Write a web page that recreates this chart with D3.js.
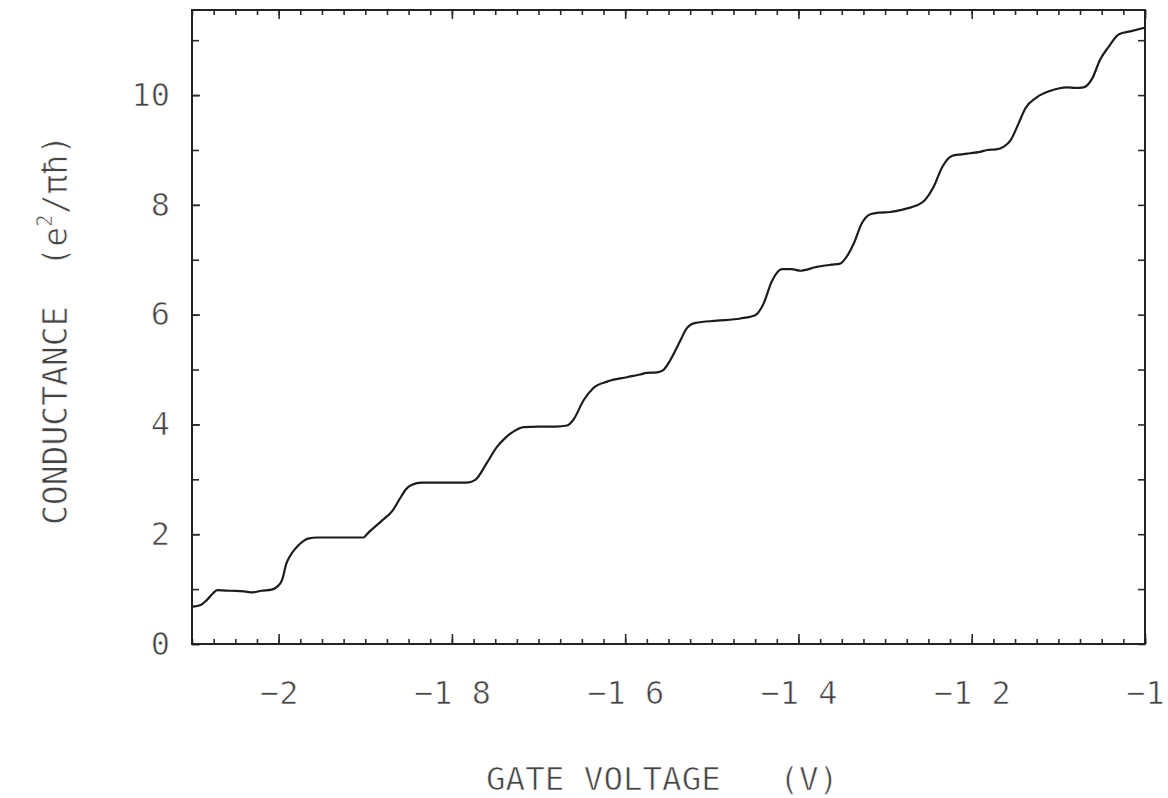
<!DOCTYPE html>
<html>
<head>
<meta charset="utf-8">
<script src="https://cdn.jsdelivr.net/npm/d3@7"></script>
<style>
  body { margin: 0; background: #fff; }
  svg { display: block; }
  .title { font-family: "DejaVu Sans Mono", monospace; fill: #444; white-space: pre; }
  .thin { stroke: #fff; stroke-width: 0.7px; }
</style>
</head>
<body>
<div id="chart"></div>
<script>
// gate voltage (V)
const gateVoltage = [
  -2.099, -2.090, -2.083, -2.076, -2.071, -2.055, -2.040, -2.030, -2.020, -2.008,
  -2.002, -1.996, -1.991, -1.987, -1.980, -1.975, -1.966, -1.955, -1.930, -1.902,
  -1.897, -1.882, -1.868, -1.860, -1.853, -1.846, -1.835, -1.810, -1.783, -1.773,
  -1.760, -1.748, -1.738, -1.729, -1.717, -1.700, -1.680, -1.667, -1.660, -1.648,
  -1.637, -1.621, -1.598, -1.583, -1.575, -1.563, -1.556, -1.548, -1.536, -1.529,
  -1.519, -1.494, -1.467, -1.450, -1.440, -1.431, -1.419, -1.408, -1.398, -1.379,
  -1.362, -1.352, -1.346, -1.336, -1.327, -1.317, -1.306, -1.294, -1.281, -1.271,
  -1.254, -1.244, -1.234, -1.223, -1.212, -1.202, -1.192, -1.182, -1.172, -1.163,
  -1.155, -1.146, -1.138, -1.125, -1.109, -1.100, -1.090, -1.080, -1.071, -1.061,
  -1.052, -1.042, -1.030, -1.017, -1.000
];
// conductance (e^2/pi h)
const conductance = [
  0.68, 0.71, 0.80, 0.92, 0.98, 0.97, 0.96, 0.94, 0.97, 0.99,
  1.04, 1.17, 1.47, 1.60, 1.75, 1.83, 1.92, 1.94, 1.94, 1.94,
  2.02, 2.23, 2.44, 2.65, 2.82, 2.90, 2.94, 2.94, 2.94, 2.99,
  3.29, 3.59, 3.76, 3.87, 3.95, 3.96, 3.96, 3.98, 4.08, 4.44,
  4.66, 4.78, 4.86, 4.91, 4.94, 4.95, 4.99, 5.17, 5.54, 5.75,
  5.85, 5.89, 5.93, 5.99, 6.21, 6.60, 6.83, 6.83, 6.80, 6.87,
  6.91, 6.93, 7.02, 7.30, 7.66, 7.83, 7.86, 7.87, 7.91, 7.95,
  8.09, 8.33, 8.69, 8.89, 8.92, 8.94, 8.96, 9.00, 9.01, 9.06,
  9.18, 9.48, 9.76, 9.96, 10.08, 10.12, 10.14, 10.13, 10.14, 10.30,
  10.64, 10.88, 11.11, 11.16, 11.23
];

const xTickValues = [-2, -1.8, -1.6, -1.4, -1.2, -1];
const xTickLabels = ["\u22122", "\u22121 8", "\u22121 6", "\u22121 4", "\u22121 2", "\u22121"];
const yTickValues = [0, 2, 4, 6, 8, 10];
const yTickLabels = ["0", "2", "4", "6", "8", "10"];

const width = 1168, height = 798;
const margin = { top: 10, right: 23, bottom: 154, left: 192 };
const x0 = margin.left, x1 = width - margin.right;
const y0 = height - margin.bottom, y1 = margin.top;

const x = d3.scaleLinear().domain([-2.1, -1.0]).range([x0, x1]);
const y = d3.scaleLinear().domain([0, 11.55]).range([y0, y1]);

const minorX = d3.range(0, 45).map(i => +(-2.1 + i * 0.025).toFixed(3));
const minorY = d3.range(0, 12);

const svg = d3.select("#chart").append("svg")
  .attr("width", width)
  .attr("height", height);

function styleAxis(g) {
  g.select(".domain").remove();
  g.attr("color", "#2a2a2a")
    .attr("font-family", "\"DejaVu Sans Mono\", monospace")
    .attr("font-size", 32);
  g.selectAll(".tick line").attr("stroke-width", 1.6);
  g.selectAll(".tick text").attr("fill", "#444").attr("class", "thin");
}

// bottom + top minor ticks
svg.append("g").attr("transform", `translate(0,${y0})`)
  .call(d3.axisBottom(x).tickValues(minorX).tickSize(-5).tickFormat(""))
  .call(styleAxis);
svg.append("g").attr("transform", `translate(0,${y1})`)
  .call(d3.axisTop(x).tickValues(minorX).tickSize(-5).tickFormat(""))
  .call(styleAxis);

// bottom major ticks with labels
svg.append("g").attr("transform", `translate(0,${y0})`)
  .call(d3.axisBottom(x).tickValues(xTickValues).tickSize(-10).tickPadding(37)
    .tickFormat((d, i) => xTickLabels[i]))
  .call(styleAxis)
  .selectAll(".tick text").style("white-space", "pre");
svg.append("g").attr("transform", `translate(0,${y1})`)
  .call(d3.axisTop(x).tickValues(xTickValues).tickSize(-9).tickFormat(""))
  .call(styleAxis);

// left + right ticks
svg.append("g").attr("transform", `translate(${x0},0)`)
  .call(d3.axisLeft(y).tickValues(minorY).tickSize(-7).tickFormat(""))
  .call(styleAxis);
svg.append("g").attr("transform", `translate(${x1},0)`)
  .call(d3.axisRight(y).tickValues(minorY).tickSize(-7).tickFormat(""))
  .call(styleAxis);
svg.append("g").attr("transform", `translate(${x0},0)`)
  .call(d3.axisLeft(y).tickValues(yTickValues).tickSize(-8).tickPadding(22)
    .tickFormat((d, i) => yTickLabels[i]))
  .call(styleAxis);

// frame
svg.append("rect")
  .attr("x", x0).attr("y", y1)
  .attr("width", x1 - x0).attr("height", y0 - y1)
  .attr("fill", "none")
  .attr("stroke", "#222")
  .attr("stroke-width", 2);

// trace
const points = gateVoltage.map((v, i) => [v, conductance[i]]);
const line = d3.line()
  .x(d => x(d[0]))
  .y(d => y(d[1]))
  .curve(d3.curveMonotoneX);

svg.append("path")
  .datum(points)
  .attr("d", line)
  .attr("fill", "none")
  .attr("stroke", "#1c1c1c")
  .attr("stroke-width", 2.2)
  .attr("stroke-linejoin", "round");

// axis titles
svg.append("text")
  .attr("class", "title thin")
  .attr("x", 486)
  .attr("y", 790)
  .attr("font-size", 32.5)
  .text("GATE VOLTAGE   (V)");

const yt = svg.append("text")
  .attr("class", "title thin")
  .attr("transform", "translate(67,525) rotate(-90)")
  .attr("font-size", 33);
yt.append("tspan").text("CONDUCTANCE  (e");
yt.append("tspan").attr("font-size", 21).attr("dy", -15).text("2");
yt.append("tspan").attr("dy", 15).text("/\u03c0\u0127)");
</script>
</body>
</html>
